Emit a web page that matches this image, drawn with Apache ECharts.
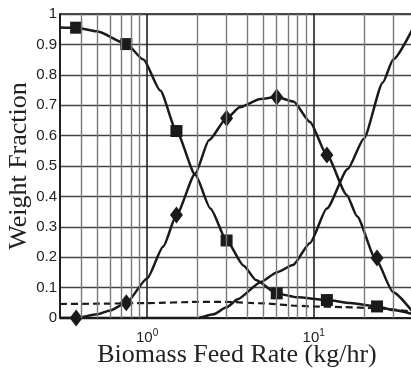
<!DOCTYPE html>
<html>
<head>
<meta charset="utf-8">
<script src="https://cdn.jsdelivr.net/npm/echarts@6/dist/echarts.min.js"></script>
<style>
html,body{margin:0;padding:0;background:#fff;}
#c{width:411px;height:369px;}
</style>
</head>
<body>
<div id="c"></div>
<script>
// ---- data ----
const markerX = [0.375, 0.75, 1.5, 3, 6, 12, 24];
const squareY = [0.955, 0.901, 0.615, 0.255, 0.081, 0.059, 0.038];
const diamondY = [0, 0.05, 0.339, 0.657, 0.727, 0.536, 0.197];

const squareCurveX = [0.3, 0.375, 0.5, 0.75, 0.95, 1.2, 1.5, 1.95, 2.4, 3, 3.8, 4.5, 6, 8, 12, 16.6, 24, 30, 40];
const squareCurveY = [0.956, 0.955, 0.943, 0.902, 0.85, 0.748, 0.615, 0.47, 0.36, 0.255, 0.172, 0.125, 0.081, 0.068, 0.059, 0.049, 0.038, 0.026, 0.012];

const diamondCurveX = [0.3, 0.375, 0.5, 0.6, 0.75, 1.0, 1.25, 1.5, 1.95, 2.35, 3, 3.6, 4.78, 6, 7.56, 9.5, 12, 15.8, 18.2, 23.4, 30, 40];
const diamondCurveY = [0, 0, 0.012, 0.025, 0.05, 0.13, 0.235, 0.339, 0.476, 0.585, 0.657, 0.693, 0.72, 0.727, 0.712, 0.645, 0.536, 0.405, 0.335, 0.197, 0.085, 0.015];

const thirdCurveX = [0.3, 1, 2, 2.5, 3, 3.5, 4.8, 6, 7.5, 9.5, 12, 16, 20, 26, 30, 40];
const thirdCurveY = [0, 0, 0, 0.012, 0.035, 0.062, 0.118, 0.15, 0.174, 0.247, 0.36, 0.49, 0.59, 0.775, 0.85, 0.96];

const dashedCurveX = [0.3, 0.5, 1, 2, 3, 5, 8, 10, 15, 24, 40];
const dashedCurveY = [0.046, 0.047, 0.049, 0.053, 0.053, 0.048, 0.04, 0.038, 0.036, 0.032, 0.02];

const minorGridX = [0.4, 0.5, 0.6, 0.7, 0.8, 0.9, 2, 3, 4, 5, 6, 7, 8, 9, 20, 30];
const majorGridX = [1, 10];

const xTitle = 'Biomass Feed Rate (kg/hr)';
const yTitle = 'Weight Fraction';

// ---- chart ----
const pair = (xs, ys) => xs.map((x, i) => [x, ys[i]]);
const ink = '#1a1a1a';
const chart = echarts.init(document.getElementById('c'), null, {renderer: 'canvas'});

const gridLines = minorGridX.map(v => ({xAxis: v, lineStyle: {color: '#7a7a7a', width: 1.4, type: 'solid'}}))
  .concat(majorGridX.map(v => ({xAxis: v, lineStyle: {color: '#222', width: 1.6, type: 'solid'}})));

const curveStyle = {color: ink, width: 2.5};
const sm = 0.2;

chart.setOption({
  animation: false,
  backgroundColor: '#fff',
  grid: {left: 60, right: -3, top: 14, bottom: 51, containLabel: false, outerBoundsMode: 'none',
         show: true, borderColor: '#111', borderWidth: 1.5, backgroundColor: 'transparent'},
  xAxis: {
    type: 'log', logBase: 10, min: 0.3, max: 40,
    axisLine: {show: true, lineStyle: {color: '#111', width: 1.5}},
    axisTick: {show: false},
    splitLine: {show: false},
    minorTick: {show: false},
    axisLabel: {
      margin: 10,
      formatter: function (v) {
        const e = Math.log10(v);
        const r = Math.round(e);
        if (Math.abs(e - r) < 1e-6) return '{b|10}{s|' + r + '}';
        return '';
      },
      rich: {
        b: {fontFamily: 'Liberation Sans', fontSize: 15, color: '#222'},
        s: {fontFamily: 'Liberation Sans', fontSize: 10, color: '#222', padding: [0, 0, 10, 0]}
      }
    },
    name: xTitle, nameLocation: 'middle', nameGap: 24, nameMoveOverlap: false,
    nameTextStyle: {fontFamily: 'Liberation Serif', fontSize: 26, color: '#222'}
  },
  yAxis: {
    type: 'value', min: 0, max: 1, interval: 0.1,
    axisLine: {show: true, lineStyle: {color: '#111', width: 1.5}},
    axisTick: {show: false},
    splitLine: {show: true, lineStyle: {color: '#444', width: 1.3}},
    axisLabel: {margin: 3, fontFamily: 'Liberation Sans', fontSize: 15, color: '#222'},
    name: yTitle, nameLocation: 'middle', nameGap: 28, nameMoveOverlap: false,
    nameTextStyle: {fontFamily: 'Liberation Serif', fontSize: 26, color: '#222'}
  },
  series: [
    {
      type: 'line', data: [], z: 1, silent: true, symbol: 'none',
      markLine: {silent: true, symbol: ['none', 'none'], label: {show: false}, animation: false, data: gridLines}
    },
    {type: 'line', z: 3, data: pair(squareCurveX, squareCurveY), smooth: sm, smoothMonotone: 'x', symbol: 'none', lineStyle: curveStyle},
    {type: 'line', z: 3, data: pair(diamondCurveX, diamondCurveY), smooth: sm, smoothMonotone: 'x', symbol: 'none', lineStyle: curveStyle},
    {type: 'line', z: 3, data: pair(thirdCurveX, thirdCurveY), smooth: sm, smoothMonotone: 'x', symbol: 'none', lineStyle: curveStyle},
    {type: 'line', z: 3, data: pair(dashedCurveX, dashedCurveY), smooth: sm, smoothMonotone: 'x', symbol: 'none', lineStyle: {color: ink, width: 2.2, type: [7, 4]}},
    {type: 'scatter', z: 4, data: pair(markerX, squareY), symbol: 'rect', symbolSize: 12, itemStyle: {color: ink, opacity: 1}},
    {type: 'scatter', z: 4, data: pair(markerX, diamondY), symbol: 'diamond', symbolSize: [13, 17], itemStyle: {color: ink, opacity: 1}}
  ]
});
</script>
</body>
</html>
